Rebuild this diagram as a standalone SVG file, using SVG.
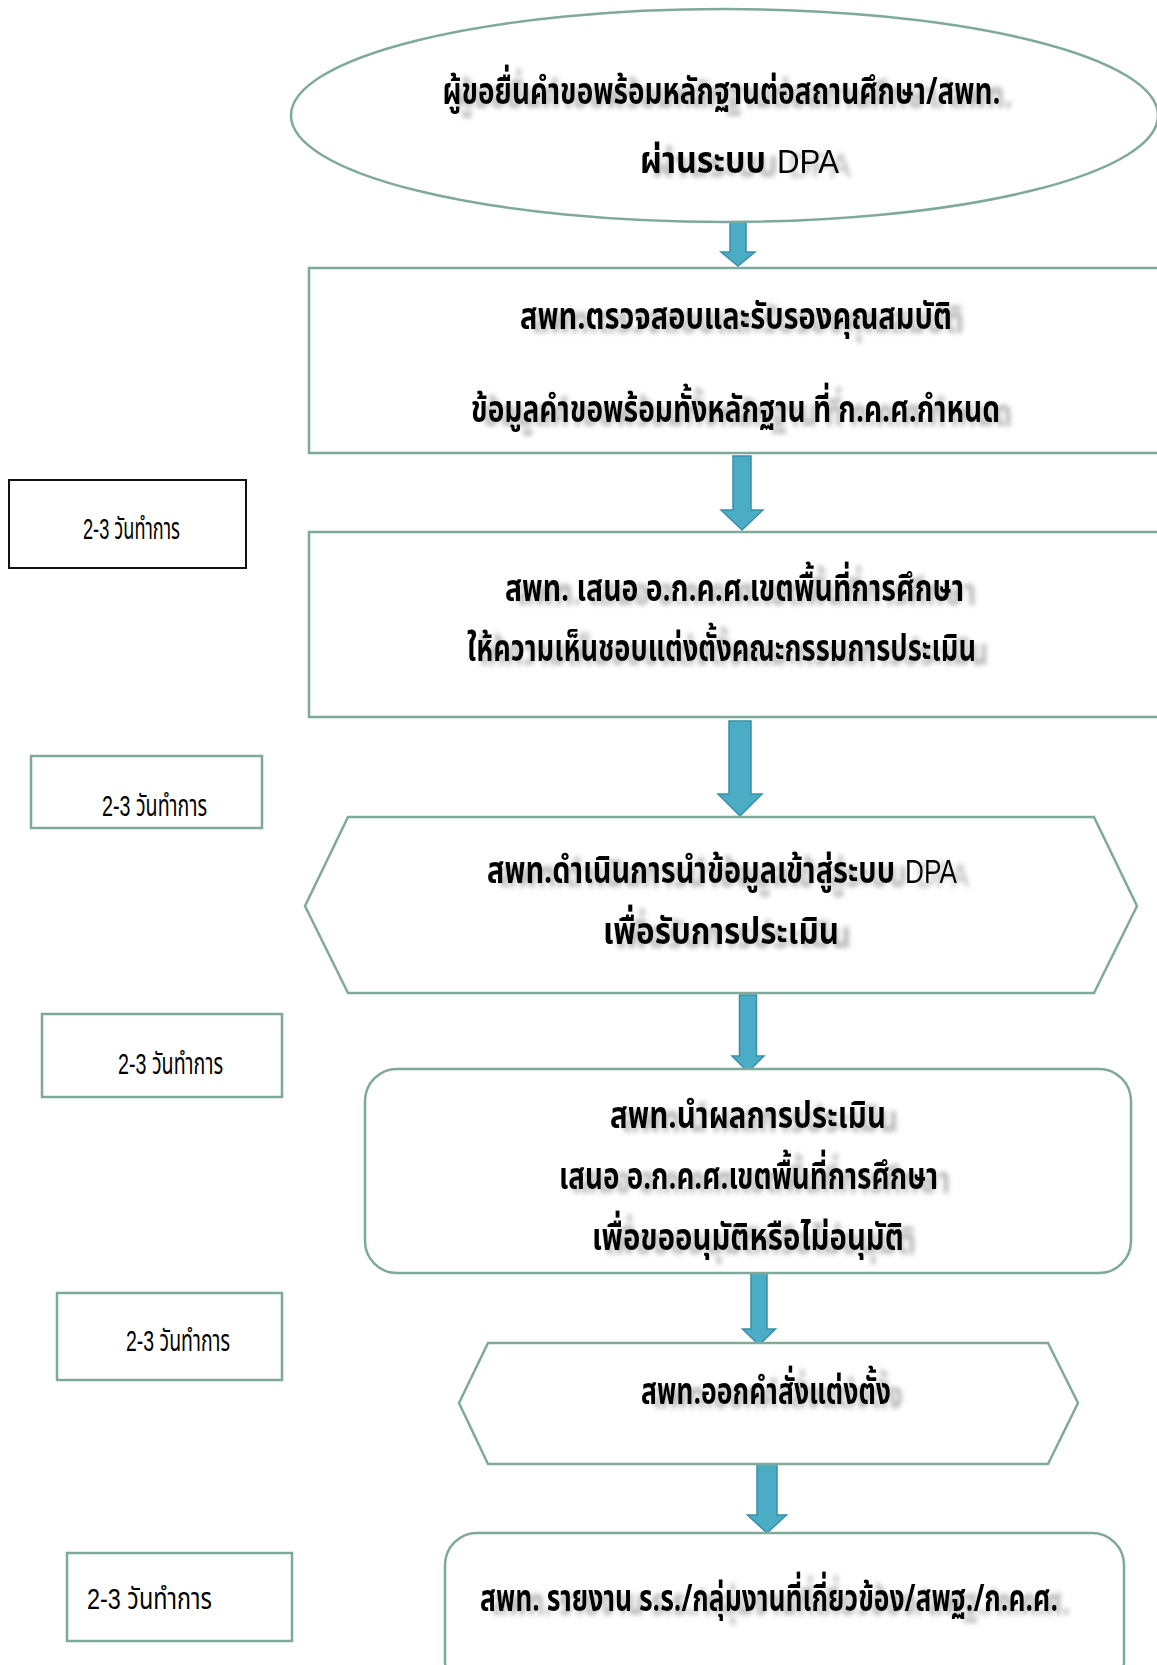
<svg xmlns="http://www.w3.org/2000/svg" width="1157" height="1665" viewBox="0 0 1157 1665">
<style>
.shape{fill:#ffffff;stroke:#7faa9b;stroke-width:2.5}
.lbl{fill:#ffffff;stroke:#7faa9b;stroke-width:2.5}
.lblk{fill:#ffffff;stroke:#111111;stroke-width:2}
.t{font-family:"Noto Sans Thai","Noto Sans","DejaVu Sans",sans-serif;font-weight:bold;font-size:38px;fill:#000000;text-anchor:middle;filter:url(#sh)}
.s{text-anchor:start}
.reg{font-family:"Liberation Sans","Noto Sans",sans-serif;font-weight:normal;font-size:34px}
.d{font-family:"Liberation Sans","Noto Sans Thai","Noto Sans",sans-serif;font-size:30px;fill:#000000}
.arr{fill:#4bacc6;stroke:#3a8ea6;stroke-width:1.5}
</style>
<defs>
<filter id="sh" filterUnits="userSpaceOnUse" x="0" y="0" width="1157" height="1665">
<feGaussianBlur in="SourceAlpha" stdDeviation="2.5"/>
<feOffset dx="12" dy="4" result="b"/>
<feFlood flood-color="#808080" flood-opacity="0.6"/>
<feComposite in2="b" operator="in" result="s"/>
<feMerge><feMergeNode in="s"/><feMergeNode in="SourceGraphic"/></feMerge>
</filter>
</defs>
<rect width="1157" height="1665" fill="#ffffff"/>

<g id="connectors">
<path class="arr" d="M730,222 L746,222 L746,252 L755,252 L738,266 L721,252 L730,252 Z"/>
<path class="arr" d="M733,456 L751,456 L751,510 L763,510 L742,530 L721,510 L733,510 Z"/>
<path class="arr" d="M729,721 L751,721 L751,794 L762,794 L740,816 L718,794 L729,794 Z"/>
<path class="arr" d="M739.5,995 L756.5,995 L756.5,1056 L764,1056 L748,1072 L732,1056 L739.5,1056 Z"/>
<path class="arr" d="M751,1273 L767,1273 L767,1329 L775.5,1329 L759,1345 L742.5,1329 L751,1329 Z"/>
<path class="arr" d="M757,1464 L777,1464 L777,1515 L786.5,1515 L767,1533 L747.5,1515 L757,1515 Z"/>
</g>

<g id="n1">
<ellipse class="shape" cx="724.5" cy="115.5" rx="433.5" ry="106.5"/>
<text class="t" x="721.5" y="104" textLength="558" lengthAdjust="spacingAndGlyphs">ผู้ขอยื่นคำขอพร้อมหลักฐานต่อสถานศึกษา/สพท.</text>
<text class="t s" y="173"><tspan x="640" textLength="126" lengthAdjust="spacingAndGlyphs">ผ่านระบบ</tspan><tspan class="reg" x="777" textLength="62" lengthAdjust="spacingAndGlyphs">DPA</tspan></text>
</g>

<g id="n2">
<rect class="shape" x="309" y="268" width="870" height="185"/>
<text class="t" x="736" y="329" textLength="432" lengthAdjust="spacingAndGlyphs">สพท.ตรวจสอบและรับรองคุณสมบัติ</text>
<text class="t" x="735.5" y="422" textLength="529" lengthAdjust="spacingAndGlyphs">ข้อมูลคำขอพร้อมทั้งหลักฐาน ที่ ก.ค.ศ.กำหนด</text>
</g>

<g id="n3">
<rect class="shape" x="309" y="532" width="870" height="185"/>
<text class="t" x="734.5" y="601" textLength="459" lengthAdjust="spacingAndGlyphs">สพท. เสนอ อ.ก.ค.ศ.เขตพื้นที่การศึกษา</text>
<text class="t" x="721.5" y="661" textLength="509" lengthAdjust="spacingAndGlyphs">ให้ความเห็นชอบแต่งตั้งคณะกรรมการประเมิน</text>
</g>

<g id="n4">
<polygon class="shape" points="305,906 348,817 1094,817 1137,906 1094,993 348,993"/>
<text class="t s" y="883"><tspan x="487" textLength="408" lengthAdjust="spacingAndGlyphs">สพท.ดำเนินการนำข้อมูลเข้าสู่ระบบ</tspan><tspan class="reg" x="905" textLength="52" lengthAdjust="spacingAndGlyphs">DPA</tspan></text>
<text class="t" x="721" y="944" textLength="236" lengthAdjust="spacingAndGlyphs">เพื่อรับการประเมิน</text>
</g>

<g id="n5">
<rect class="shape" x="365" y="1069" width="766" height="204" rx="32" ry="32"/>
<text class="t" x="748" y="1128" textLength="276" lengthAdjust="spacingAndGlyphs">สพท.นำผลการประเมิน</text>
<text class="t" x="748.5" y="1189" textLength="379" lengthAdjust="spacingAndGlyphs">เสนอ อ.ก.ค.ศ.เขตพื้นที่การศึกษา</text>
<text class="t" x="748" y="1250" textLength="312" lengthAdjust="spacingAndGlyphs">เพื่อขออนุมัติหรือไม่อนุมัติ</text>
</g>

<g id="n6">
<polygon class="shape" points="459,1403 488,1343 1048,1343 1078,1403 1048,1464 488,1464"/>
<text class="t" x="766" y="1404" textLength="250" lengthAdjust="spacingAndGlyphs">สพท.ออกคำสั่งแต่งตั้ง</text>
</g>

<g id="n7">
<rect class="shape" x="445" y="1533" width="679" height="160" rx="32" ry="32"/>
<text class="t" x="769" y="1611" textLength="578" lengthAdjust="spacingAndGlyphs">สพท. รายงาน ร.ร./กลุ่มงานที่เกี่ยวข้อง/สพฐ./ก.ค.ศ.</text>
</g>

<g id="d1">
<rect class="lblk" x="9" y="480" width="237" height="88"/>
<text class="d" x="83" y="539" textLength="97" lengthAdjust="spacingAndGlyphs">2-3 วันทำการ</text>
</g>
<g id="d2">
<rect class="lbl" x="31" y="756" width="231" height="72"/>
<text class="d" x="102" y="816" textLength="105" lengthAdjust="spacingAndGlyphs">2-3 วันทำการ</text>
</g>
<g id="d3">
<rect class="lbl" x="42" y="1014" width="240" height="83"/>
<text class="d" x="118" y="1074" textLength="105" lengthAdjust="spacingAndGlyphs">2-3 วันทำการ</text>
</g>
<g id="d4">
<rect class="lbl" x="57" y="1293" width="225" height="87"/>
<text class="d" x="126" y="1351" textLength="104" lengthAdjust="spacingAndGlyphs">2-3 วันทำการ</text>
</g>
<g id="d5">
<rect class="lbl" x="67" y="1553" width="225" height="88"/>
<text class="d" x="87" y="1609" font-size="40" textLength="125" lengthAdjust="spacingAndGlyphs">2-3 วันทำการ</text>
</g>
</svg>
